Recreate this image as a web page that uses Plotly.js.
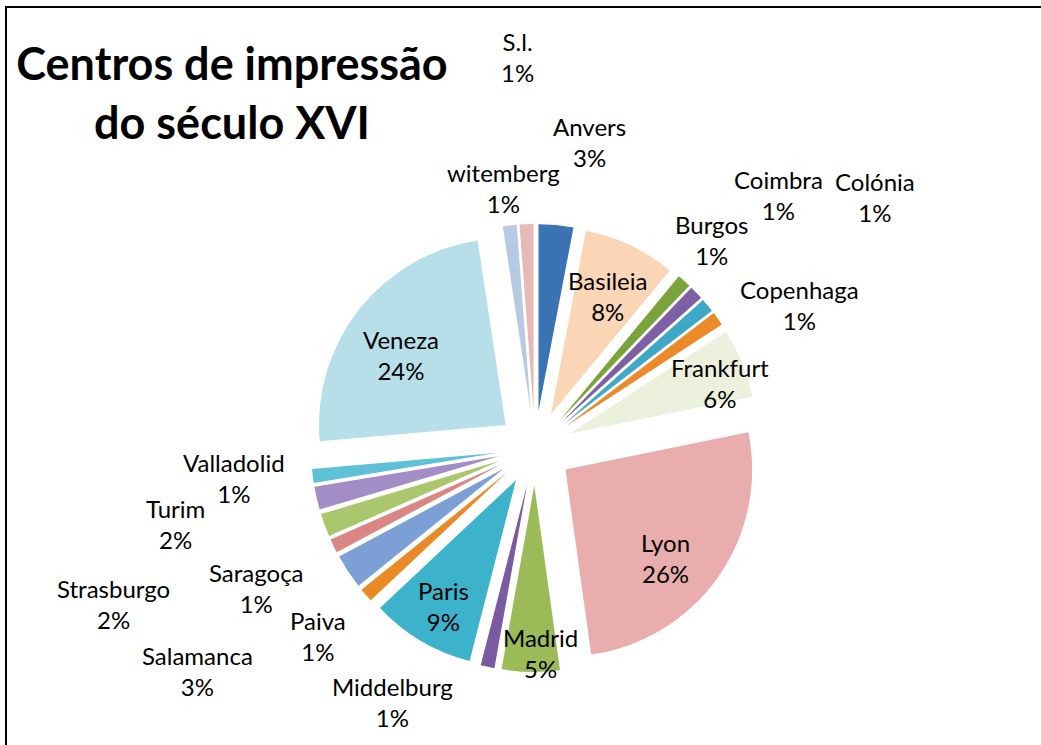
<!DOCTYPE html>
<html>
<head>
<meta charset="utf-8">
<script src="https://cdn.plot.ly/plotly-3.0.1.min.js"></script>
<style>
  html, body { margin: 0; padding: 0; background: #ffffff; }
  #chart { width: 1041px; height: 745px; }
</style>
</head>
<body>
<div id="chart"></div>
<script>
// ---- data ----
const labels = ['Anvers','Basileia','Burgos','Coimbra','Colónia','Copenhaga','Frankfurt','Lyon','Madrid','Middelburg','Paris','Paiva','Salamanca','Saragoça','Strasburgo','Turim','Valladolid','Veneza','witemberg','S.l.'];
const values = [3, 8, 1.2, 1.2, 1.2, 1.2, 6, 26, 5, 1.2, 9, 1.2, 3, 1.2, 2, 2, 1.2, 24, 1.2, 1.2];
const colors = ['#3a73b3','#fbd6b6','#7aa33c','#7d60a3','#3ea9c6','#ec8a2a','#ebf1dc','#e8adac','#9bbb59','#7a5ba0','#3db3cb','#ea8a26','#7c9fd6','#d98684','#aac76e','#a38dc6','#5fc1d7','#b7dfea','#b7cae4','#e6b8b7'];
const titleText = 'Centros de impressão<br>do século XVI';

// ---- layout helpers (label anchor positions in page pixels) ----
const W = 1041, H = 745;
const labelPos = {
  'Anvers':[589,142], 'Basileia':[607,296], 'Burgos':[711,240], 'Coimbra':[778,195],
  'Colónia':[875,197], 'Copenhaga':[799,305], 'Frankfurt':[720,383], 'Lyon':[665,558],
  'Madrid':[540,653], 'Middelburg':[392,702], 'Paris':[443,606], 'Paiva':[318,636],
  'Salamanca':[197,671], 'Saragoça':[256,588], 'Strasburgo':[113,604], 'Turim':[175,524],
  'Valladolid':[234,478], 'Veneza':[401,355], 'witemberg':[503,188], 'S.l.':[517,57]
};
const total = values.reduce((a, b) => a + b, 0);
const FONT = 'Lato, "Open Sans", sans-serif';

const annotations = labels.map((lab, i) => ({
  xref: 'paper', yref: 'paper',
  x: labelPos[lab][0] / W, y: 1 - labelPos[lab][1] / H,
  xanchor: 'center', yanchor: 'middle',
  text: lab + '<br>' + Math.round(values[i] / total * 100) + '%',
  showarrow: false,
  font: { family: FONT, size: 24, color: '#000000' },
  align: 'center'
}));

const cx = 535, cy = 448, half = 224;
const trace = {
  type: 'pie',
  labels: labels,
  values: values,
  sort: false,
  direction: 'clockwise',
  rotation: 0,
  pull: values.map(() => 0.2),
  marker: { colors: colors, line: { color: '#ffffff', width: 0 } },
  textinfo: 'none',
  hoverinfo: 'label+percent',
  showlegend: false,
  domain: { x: [(cx - half) / W, (cx + half) / W], y: [1 - (cy + half) / H, 1 - (cy - half) / H] }
};

const layout = {
  width: W, height: H,
  margin: { l: 0, r: 0, t: 0, b: 0 },
  paper_bgcolor: '#ffffff',
  showlegend: false,
  title: {
    text: titleText,
    font: { family: FONT, size: 45, color: '#000000', weight: 'bold' },
    x: 232 / W, xanchor: 'center', xref: 'paper',
    y: 1 - 80 / H, yanchor: 'middle', yref: 'container'
  },
  annotations: annotations,
  shapes: [
    { type: 'line', xref: 'paper', yref: 'paper', x0: 6 / W, x1: 6 / W, y0: 0, y1: 1 - 6 / H, line: { color: '#000000', width: 2 } },
    { type: 'line', xref: 'paper', yref: 'paper', x0: 6 / W, x1: 1, y0: 1 - 7 / H, y1: 1 - 7 / H, line: { color: '#000000', width: 2 } }
  ]
};

Plotly.newPlot('chart', [trace], layout, { displayModeBar: false, staticPlot: true });
</script>
</body>
</html>
